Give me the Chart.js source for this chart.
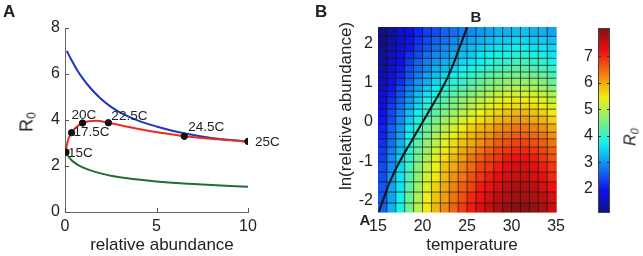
<!DOCTYPE html>
<html><head><meta charset="utf-8">
<script src="https://cdn.jsdelivr.net/npm/chart.js@4.4.1/dist/chart.umd.min.js"></script>
<style>
html,body{margin:0;padding:0;background:#fff;}
body{width:643px;height:256px;position:relative;overflow:hidden;font-family:"Liberation Sans",Arial,Helvetica,sans-serif;color:#222;}
.box{position:absolute;top:0;height:256px;}
.t{position:absolute;white-space:nowrap;font-size:17px;line-height:17px;color:#222;}
.rot{transform:translate(-50%,-50%) rotate(-90deg);}
.hc{transform:translateX(-50%);}
.cc{transform:translate(-50%,-50%);}
sub{font-size:0.68em;vertical-align:-0.25em;line-height:0;}
</style></head><body>
<div class="box" style="left:0;width:300px"><canvas id="cA" width="300" height="256"></canvas></div>
<div class="box" style="left:300px;width:270px"><canvas id="cB" width="270" height="256"></canvas></div>
<div class="box" style="left:560px;width:83px"><canvas id="cC" width="83" height="256"></canvas></div>

<div class="t" style="left:3px;top:3px;font-weight:bold;">A</div>
<div class="t" style="left:315px;top:3px;font-weight:bold;">B</div>
<div class="t rot" style="left:27px;top:122px;font-size:18px;">R<sub>0</sub></div>
<div class="t hc" style="left:162px;top:236px;">relative abundance</div>
<div class="t rot" style="left:345px;top:106px;">ln(relative abundance)</div>
<div class="t hc" style="left:472px;top:236px;">temperature</div>
<div class="t cc" style="left:476px;top:16px;font-weight:bold;font-size:15px;">B</div>
<div class="t cc" style="left:365px;top:219px;font-weight:bold;font-size:15px;">A</div>
<div class="t rot" style="left:630px;top:137px;font-size:16px;font-style:italic;">R<sub>0</sub></div>

<script>
// ---------- Panel A data ----------
const blueX  = [0.1, 0.36, 0.64, 1.0, 1.4, 1.9, 2.5, 3.0, 4.0, 5.0, 6.5, 8.0, 10];
const blueY  = [7.0, 6.6, 6.2, 5.78, 5.38, 4.97, 4.58, 4.33, 3.97, 3.72, 3.42, 3.22, 3.06];
const redX   = [0.05, 0.1, 0.2, 0.36, 0.6, 0.96, 1.3, 1.7, 2.37, 3.2, 4.1, 5.2, 6.52, 8.3, 10];
const redY   = [2.6, 2.9, 3.2, 3.45, 3.68, 3.87, 3.95, 3.97, 3.88, 3.74, 3.6, 3.45, 3.29, 3.16, 3.07];
const greenX = [0.05, 0.36, 0.64, 1.0, 1.4, 1.9, 2.5, 3.0, 4.0, 5.0, 6.5, 8.0, 10];
const greenY = [2.55, 2.25, 2.08, 1.93, 1.81, 1.69, 1.58, 1.51, 1.41, 1.33, 1.24, 1.17, 1.1];
const dotX   = [0.05, 0.36, 0.96, 2.37, 6.52, 10.0];
const dotY   = [2.6, 3.45, 3.87, 3.88, 3.29, 3.07];
const dotLabels = ['15C', '17.5C', '20C', '22.5C', '24.5C', '25C'];
const xTicksA = [0, 5, 10];
const yTicksA = [0, 2, 4, 6, 8];

// ---------- Panel B data ----------
const tempEdges = [15,16,17,18,19,20,21,22,23,24,25,26,27,28,29,30,31,32,33,34,35];
const lnEdges = [-2.30,-2.07,-1.79,-1.53,-1.28,-1.02,-0.82,-0.64,-0.43,-0.26,-0.05,0.15,0.33,0.48,0.64,0.79,0.94,1.12,1.28,1.45,1.63,1.81,1.99,2.19,2.43];
// R0 per cell, rows from bottom (ln = -2.3) to top, columns 15..34 C
const r0Grid = [
 [2.6,3.2,3.8,4.45,5.0,5.5,5.9,6.25,6.55,6.85,7.1,7.35,7.55,7.75,7.9,8.0,8.0,7.9,7.75,7.5],
 [2.5,3.1,3.7,4.4,4.9,5.4,5.8,6.1,6.4,6.7,7.0,7.2,7.4,7.6,7.7,7.8,7.8,7.7,7.6,7.4],
 [2.5,3.1,3.6,4.3,4.8,5.3,5.7,6.0,6.3,6.6,6.8,7.1,7.2,7.4,7.6,7.7,7.7,7.6,7.4,7.2],
 [2.4,3.0,3.6,4.2,4.7,5.2,5.5,5.9,6.2,6.4,6.7,6.9,7.1,7.3,7.4,7.5,7.5,7.4,7.3,7.0],
 [2.4,2.9,3.5,4.1,4.6,5.1,5.4,5.8,6.0,6.3,6.5,6.8,6.9,7.1,7.3,7.4,7.4,7.3,7.1,6.9],
 [2.3,2.9,3.4,4.0,4.5,4.9,5.3,5.6,5.9,6.1,6.4,6.6,6.8,6.9,7.1,7.2,7.2,7.1,6.9,6.7],
 [2.3,2.8,3.3,3.9,4.4,4.8,5.2,5.5,5.7,6.0,6.2,6.4,6.6,6.8,6.9,7.0,7.0,6.9,6.8,6.6],
 [2.2,2.7,3.2,3.8,4.3,4.7,5.0,5.3,5.6,5.8,6.0,6.2,6.4,6.6,6.7,6.8,6.8,6.7,6.6,6.4],
 [2.1,2.6,3.1,3.7,4.1,4.5,4.9,5.2,5.4,5.7,5.9,6.1,6.2,6.4,6.5,6.6,6.6,6.5,6.4,6.2],
 [2.1,2.6,3.0,3.6,4.0,4.4,4.7,5.0,5.2,5.5,5.7,5.9,6.0,6.2,6.3,6.4,6.4,6.3,6.2,6.0],
 [2.0,2.4,2.9,3.4,3.8,4.2,4.5,4.8,5.0,5.2,5.4,5.6,5.7,5.9,6.0,6.1,6.1,6.0,5.9,5.7],
 [1.9,2.4,2.8,3.3,3.7,4.0,4.3,4.6,4.8,5.0,5.2,5.4,5.6,5.7,5.8,5.9,5.9,5.8,5.7,5.5],
 [1.8,2.3,2.7,3.1,3.5,3.9,4.2,4.4,4.6,4.8,5.0,5.2,5.3,5.5,5.6,5.6,5.6,5.6,5.5,5.3],
 [1.8,2.2,2.6,3.0,3.4,3.8,4.0,4.3,4.5,4.7,4.9,5.0,5.2,5.3,5.4,5.5,5.5,5.4,5.3,5.1],
 [1.7,2.1,2.5,2.9,3.3,3.6,3.8,4.1,4.3,4.5,4.6,4.8,4.9,5.1,5.2,5.2,5.2,5.2,5.1,4.9],
 [1.6,2.0,2.4,2.8,3.1,3.4,3.7,3.9,4.1,4.2,4.4,4.6,4.7,4.8,4.9,5.0,5.0,4.9,4.8,4.7],
 [1.5,1.9,2.2,2.6,3.0,3.2,3.5,3.7,3.9,4.0,4.2,4.3,4.5,4.6,4.7,4.7,4.7,4.7,4.6,4.4],
 [1.5,1.8,2.1,2.5,2.8,3.1,3.3,3.5,3.7,3.9,4.0,4.2,4.3,4.4,4.5,4.5,4.5,4.5,4.4,4.2],
 [1.4,1.7,2.0,2.4,2.7,2.9,3.2,3.3,3.5,3.7,3.8,3.9,4.0,4.1,4.2,4.3,4.3,4.2,4.1,4.0],
 [1.3,1.6,1.9,2.3,2.6,2.8,3.0,3.2,3.3,3.5,3.6,3.7,3.9,4.0,4.0,4.1,4.1,4.0,4.0,3.8],
 [1.3,1.6,1.8,2.2,2.4,2.7,2.9,3.0,3.2,3.3,3.4,3.6,3.7,3.8,3.8,3.9,3.9,3.8,3.8,3.6],
 [1.2,1.5,1.7,2.0,2.3,2.5,2.7,2.9,3.0,3.2,3.3,3.4,3.5,3.6,3.6,3.7,3.7,3.6,3.6,3.5],
 [1.1,1.4,1.7,1.9,2.2,2.4,2.6,2.7,2.9,3.0,3.1,3.2,3.3,3.4,3.4,3.5,3.5,3.4,3.4,3.3],
 [1.1,1.3,1.6,1.8,2.1,2.3,2.4,2.6,2.7,2.8,2.9,3.0,3.1,3.2,3.2,3.3,3.3,3.2,3.2,3.1]
];
const curveT  = [15.1, 15.4, 15.8, 16.3, 16.9, 17.7, 18.6, 19.5, 20.4, 21.3, 22.1, 22.8, 23.4, 23.9, 24.4, 24.8, 25.0];
const curveLn = [-2.3, -2.1, -1.85, -1.55, -1.25, -0.9, -0.55, -0.2, 0.15, 0.5, 0.82, 1.13, 1.45, 1.75, 2.05, 2.3, 2.43];
const xTicksB = [15, 20, 25, 30, 35];
const yTicksB = [-2, -1, 0, 1, 2];
const cMin = 1.08, cMax = 8.06;
const cbTicks = [2, 3, 4, 5, 6, 7];

// ---------- helpers ----------
function clamp(v){ return Math.max(0, Math.min(1, v)); }
function jet(v){
  const n = clamp((v - cMin) / (cMax - cMin));
  const r = clamp(1.5 - Math.abs(4*n - 3)), g = clamp(1.5 - Math.abs(4*n - 2)), b = clamp(1.5 - Math.abs(4*n - 1));
  const m = c => Math.round(c * 255 * 0.88 + 16);
  return 'rgb(' + m(r) + ',' + m(g) + ',' + m(b) + ')';
}
const FONT = '"Liberation Sans", Arial, Helvetica, sans-serif';
Chart.defaults.font.family = FONT;
Chart.defaults.color = '#222';

const inTicks = {
  id: 'inTicks',
  afterDraw(chart, args, o){
    if (!o || !o.len) return;
    const ctx = chart.ctx, a = chart.chartArea, xs = chart.scales.x, ys = chart.scales.y;
    ctx.save(); ctx.strokeStyle = o.color || '#555'; ctx.lineWidth = 1; ctx.beginPath();
    if (o.x) xs.ticks.forEach(t => { const p = Math.round(xs.getPixelForValue(t.value)) + 0.5;
      ctx.moveTo(p, a.bottom); ctx.lineTo(p, a.bottom - o.len); });
    if (o.y) ys.ticks.forEach(t => { const p = Math.round(ys.getPixelForValue(t.value)) + 0.5;
      ctx.moveTo(a.left, p); ctx.lineTo(a.left + o.len, p);
      if (o.both) { ctx.moveTo(a.right, p); ctx.lineTo(a.right - o.len, p); } });
    ctx.stroke(); ctx.restore();
  }
};

const labelOff = [[2,1],[2,0],[-11,-8],[3,-6],[4,-9],[7,1]];
const dotText = {
  id: 'dotText',
  afterDatasetsDraw(chart){
    const ctx = chart.ctx, xs = chart.scales.x, ys = chart.scales.y;
    ctx.save(); ctx.fillStyle = '#222'; ctx.font = '13.5px ' + FONT; ctx.textBaseline = 'middle'; ctx.textAlign = 'left';
    dotLabels.forEach((s, i) => {
      ctx.fillText(s, xs.getPixelForValue(dotX[i]) + labelOff[i][0], ys.getPixelForValue(dotY[i]) + labelOff[i][1]);
    });
    ctx.restore();
  }
};

const heat = {
  id: 'heat',
  beforeDatasetsDraw(chart){
    const ctx = chart.ctx, xs = chart.scales.x, ys = chart.scales.y;
    ctx.save();
    for (let r = 0; r < r0Grid.length; r++) {
      const y0 = ys.getPixelForValue(lnEdges[r]), y1 = ys.getPixelForValue(lnEdges[r+1]);
      for (let c = 0; c < r0Grid[r].length; c++) {
        const x0 = xs.getPixelForValue(tempEdges[c]), x1 = xs.getPixelForValue(tempEdges[c+1]);
        ctx.fillStyle = jet(r0Grid[r][c]);
        ctx.fillRect(x0, y1, x1 - x0 + 0.6, y0 - y1 + 0.6);
      }
    }
    ctx.strokeStyle = 'rgba(20,20,20,0.7)'; ctx.lineWidth = 1; ctx.beginPath();
    const top = ys.getPixelForValue(lnEdges[lnEdges.length-1]), bot = ys.getPixelForValue(lnEdges[0]);
    const lft = xs.getPixelForValue(tempEdges[0]), rgt = xs.getPixelForValue(tempEdges[tempEdges.length-1]);
    for (let c = 1; c < tempEdges.length - 1; c++) { const x = xs.getPixelForValue(tempEdges[c]); ctx.moveTo(x, top); ctx.lineTo(x, bot); }
    for (let r = 1; r < lnEdges.length - 1; r++) { const y = ys.getPixelForValue(lnEdges[r]); ctx.moveTo(lft, y); ctx.lineTo(rgt, y); }
    ctx.stroke(); ctx.restore();
  }
};

const colorbar = {
  id: 'colorbar',
  beforeDatasetsDraw(chart){
    const ctx = chart.ctx, a = chart.chartArea, ys = chart.scales.y;
    const yb = ys.getPixelForValue(cMin), yt = ys.getPixelForValue(cMax);
    const grad = ctx.createLinearGradient(0, yb, 0, yt);
    for (let k = 0; k <= 64; k++) grad.addColorStop(k/64, jet(cMin + (cMax - cMin) * k/64));
    ctx.save(); ctx.fillStyle = grad; ctx.fillRect(a.left, yt, a.right - a.left, yb - yt);
    ctx.strokeStyle = '#444'; ctx.lineWidth = 1; ctx.strokeRect(a.left + 0.5, yt + 0.5, a.right - a.left - 1, yb - yt - 1);
    ctx.restore();
  }
};

// ---------- Panel A chart ----------
new Chart(document.getElementById('cA'), {
  type: 'scatter',
  data: { datasets: [
    { data: dotX.map((x,i)=>({x, y: dotY[i]})), pointRadius: 3.2, pointBackgroundColor: '#111', pointBorderColor: '#111', showLine: false },
    { data: redX.map((x,i)=>({x, y: redY[i]})), showLine: true, borderColor: 'rgb(236,45,30)', borderWidth: 2, pointRadius: 0, cubicInterpolationMode: 'monotone' },
    { data: blueX.map((x,i)=>({x, y: blueY[i]})), showLine: true, borderColor: 'rgb(32,52,190)', borderWidth: 2, pointRadius: 0, cubicInterpolationMode: 'monotone' },
    { data: greenX.map((x,i)=>({x, y: greenY[i]})), showLine: true, borderColor: 'rgb(35,110,55)', borderWidth: 2, pointRadius: 0, cubicInterpolationMode: 'monotone' }
  ]},
  options: {
    responsive: false, animation: false, devicePixelRatio: 1, events: [],
    layout: { padding: { top: 28, right: 52, left: 0, bottom: 0 } },
    plugins: { legend: { display: false }, tooltip: { enabled: false }, inTicks: { len: 4, x: true, y: true, color: '#555' } },
    scales: {
      x: { type: 'linear', min: 0, max: 10, grid: { display: false, drawTicks: false }, border: { display: true, color: '#666', width: 1 },
           afterBuildTicks: s => { s.ticks = xTicksA.map(v => ({ value: v })); }, afterFit: s => { s.height = 44; },
           ticks: { font: { size: 16 }, padding: 5, maxRotation: 0, autoSkip: false } },
      y: { type: 'linear', min: 0, max: 8, grid: { display: false, drawTicks: false }, border: { display: true, color: '#666', width: 1 },
           afterBuildTicks: s => { s.ticks = yTicksA.map(v => ({ value: v })); }, afterFit: s => { s.width = 65; },
           ticks: { font: { size: 16 }, padding: 5, autoSkip: false } }
    }
  },
  plugins: [inTicks, dotText]
});

// ---------- Panel B chart ----------
new Chart(document.getElementById('cB'), {
  type: 'scatter',
  data: { datasets: [
    { data: curveT.map((x,i)=>({x, y: curveLn[i]})), showLine: true, borderColor: '#111', borderWidth: 2, pointRadius: 0, cubicInterpolationMode: 'monotone' }
  ]},
  options: {
    responsive: false, animation: false, devicePixelRatio: 1, events: [],
    layout: { padding: { top: 27, right: 8, left: 0, bottom: 0 } },
    plugins: { legend: { display: false }, tooltip: { enabled: false } },
    scales: {
      x: { type: 'linear', min: 15, max: 35, grid: { display: false, drawTicks: false }, border: { display: false },
           afterBuildTicks: s => { s.ticks = xTicksB.map(v => ({ value: v })); }, afterFit: s => { s.height = 44; },
           ticks: { font: { size: 16 }, padding: 5, maxRotation: 0, autoSkip: false } },
      y: { type: 'linear', min: -2.3, max: 2.43, grid: { display: false, drawTicks: false }, border: { display: false },
           afterBuildTicks: s => { s.ticks = yTicksB.map(v => ({ value: v })); }, afterFit: s => { s.width = 78; },
           ticks: { font: { size: 16 }, padding: 5, autoSkip: false } }
    }
  },
  plugins: [heat]
});

// ---------- Colorbar ----------
new Chart(document.getElementById('cC'), {
  type: 'scatter',
  data: { datasets: [{ data: [] }] },
  options: {
    responsive: false, animation: false, devicePixelRatio: 1, events: [],
    layout: { padding: { top: 28, right: 33, left: 0, bottom: 43 } },
    plugins: { legend: { display: false }, tooltip: { enabled: false }, inTicks: { len: 3, y: true, both: true, color: '#333' } },
    scales: {
      x: { display: false, min: 0, max: 1 },
      y: { type: 'linear', min: cMin, max: cMax, grid: { display: false, drawTicks: false }, border: { display: false },
           afterBuildTicks: s => { s.ticks = cbTicks.map(v => ({ value: v })); }, afterFit: s => { s.width = 38; },
           ticks: { font: { size: 16 }, padding: 5, autoSkip: false } }
    }
  },
  plugins: [colorbar, inTicks]
});
</script>
</body></html>
